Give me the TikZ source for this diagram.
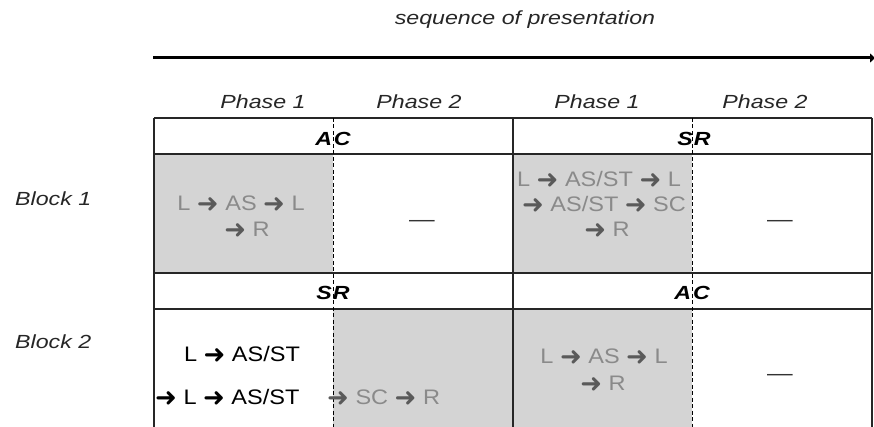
\documentclass[tikz,border=0pt]{standalone}
\usepackage{fontspec}
\usepackage{graphicx}
\usetikzlibrary{arrows.meta}
\setmainfont{Liberation Sans}
\newfontfamily\labfont[FakeStretch=1.22]{Liberation Sans}
\newfontfamily\bodyfont[FakeStretch=1.12]{Liberation Sans}
\newfontfamily\arrfont{DejaVu Sans}
\newcommand\ra{{\color{.!65!black}\arrfont\fontsize{26}{26}\selectfont\raisebox{-1.8pt}[8pt][0pt]{➜}}}
\definecolor{cellgray}{RGB}{212,212,212}
\definecolor{txtgray}{RGB}{138,138,138}
\begin{document}
\begin{tikzpicture}[x=1pt,y=-1pt,
  lab/.style={font=\labfont\itshape\fontsize{19}{21}\selectfont, inner sep=0pt, text=black!85},
  hdr/.style={font=\labfont\bfseries\itshape\fontsize{19}{21}\selectfont, inner sep=0pt},
  body/.style={font=\bodyfont\fontsize{21}{24}\selectfont, inner sep=0pt, text=txtgray},
  bodyk/.style={body, text=black},
  dashmark/.style={font=\labfont\fontsize{21}{24}\selectfont, inner sep=0pt, text=black!80},
  gridline/.style={line width=1.2pt, draw=black!85},
  divider/.style={line width=1pt, dash pattern=on 4pt off 2.5pt},
  timeline/.style={line width=3pt, -{Triangle[length=5pt,width=9pt]}}
]
\useasboundingbox (0,0) rectangle (874,427);
% shaded cells
\fill[cellgray] (154,154) rectangle (333,273);
\fill[cellgray] (513,154) rectangle (692,273);
\fill[cellgray] (333,309) rectangle (513,427);
\fill[cellgray] (513,309) rectangle (692,427);
% grid
\draw[gridline] (154,118) -- (872,118);
\draw[gridline] (154,154) -- (872,154);
\draw[gridline] (154,273) -- (872,273);
\draw[gridline] (154,309) -- (872,309);
\draw[gridline] (154,118) -- (154,427);
\draw[gridline] (513,118) -- (513,427);
\draw[gridline] (872,118) -- (872,427);
\draw[divider] (333,118) -- (333,427);
\draw[divider] (692,118) -- (692,427);
% timeline
\coordinate (tl0) at (153,58);
\coordinate (tl1) at (875,58);
\draw[timeline] (tl0) -- (tl1);
\node[lab, anchor=base] (title) at (525,25) {sequence of presentation};
% phase labels
\node[lab] (p1a) at (263,102) {Phase 1};
\node[lab] (p2a) at (419,102) {Phase 2};
\node[lab] (p1b) at (597,102) {Phase 1};
\node[lab] (p2b) at (765,102) {Phase 2};
% block labels
\node[lab, anchor=west] (b1) at (15,199) {Block 1};
\node[lab, anchor=west] (b2) at (15,342) {Block 2};
% headers
\node[hdr] (h1) at (333,139) {A\kern2pt C};
\node[hdr] (h2) at (694,139) {S\kern1pt R};
\node[hdr] (h3) at (333,293) {S\kern1pt R};
\node[hdr] (h4) at (692,293) {A\kern2pt C};
% block 1 left
\node[body] (t1a) at (241,203) {L \ra{} AS \ra{} L};
\node[body] (t1b) at (247,229) {\ra{} R};
\node[dashmark] (d1) at (422,223) {—};
% block 1 right
\node[body] (t2a) at (599,179) {L \ra{} AS/ST \ra{} L};
\node[body] (t2b) at (604,204) {\ra{} AS/ST \ra{} SC};
\node[body] (t2c) at (607,229) {\ra{} R};
\node[dashmark] (d2) at (780,223) {—};
% block 2 left
\node[bodyk] (t3a) at (242,354) {L \ra{} AS/ST};
\node[bodyk, anchor=west] (t3b) at (155,397) {\ra{} L \ra{} AS/ST};
\node[body, anchor=west] (t3c) at (327,397) {\ra{} SC \ra{} R};
% block 2 right
\node[body] (t4a) at (604,356) {L \ra{} AS \ra{} L};
\node[body] (t4b) at (603,383) {\ra{} R};
\node[dashmark] (d4) at (780,377) {—};
\end{tikzpicture}
\end{document}
